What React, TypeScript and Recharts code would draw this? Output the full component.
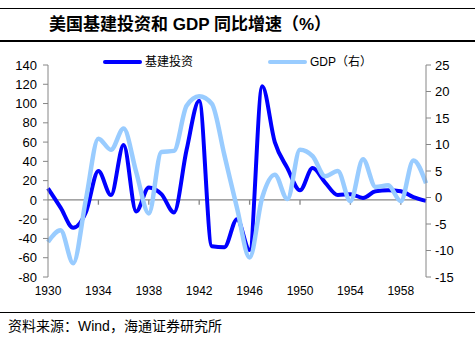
import React from "react";
import { LineChart, Line, XAxis, YAxis, ReferenceLine } from "recharts";

// 1930 - 1960
const years = [
  "1930", "1931", "1932", "1933", "1934", "1935", "1936", "1937", "1938", "1939",
  "1940", "1941", "1942", "1943", "1944", "1945", "1946", "1947", "1948", "1949",
  "1950", "1951", "1952", "1953", "1954", "1955", "1956", "1957", "1958", "1959",
  "1960",
];

// 基建投资 同比 (%), left axis
const infraGrowth = [
  12, -8, -29, -13, 30, 5, 57, -12, 13, 6,
  -13, 52, 103, -48, -49, -20, -52, 118, 60, 33,
  10, 33, 18, 5, 6, 2, 9, 10, 9, 3,
  -1,
];

// GDP 同比 (%), right axis
const gdpGrowth = [
  -8.4, -6.2, -12.4, -0.5, 11.1, 9, 13, 4.8, -3, 8.6,
  8.8, 17.3, 19.1, 17.7, 8, -2, -11.3, 0, 4.3, -0.3,
  9, 7.8, 4, 5, -0.7, 7.2, 2, 2.3, -0.7, 7,
  2.7,
];

const leftTicks = [-80, -60, -40, -20, 0, 20, 40, 60, 80, 100, 120, 140];
const rightTicks = [-15, -10, -5, 0, 5, 10, 15, 20, 25];
const labelYears = ["1934", "1938", "1942", "1946", "1950", "1954", "1958"];

const seriesNames = { infra: "基建投资", gdp: "GDP（右）" };
const colors = { infra: "#0000FF", gdp: "#99CCFF", axis: "#868686" };

const data = years.map((year, i) => ({
  year,
  infra: infraGrowth[i],
  gdp: gdpGrowth[i],
}));

const latin = "'Liberation Sans', Arial, sans-serif";
const cjk = "'Liberation Sans', 'Noto Sans CJK SC', sans-serif";

function Rule({ top }: { top: number }) {
  return (
    <div
      style={{
        position: "absolute",
        left: 0,
        top,
        width: 475,
        height: 1.5,
        background: "#000",
      }}
    />
  );
}

function LegendItem({ left, color, width, label }: { left: number; color: string; width: number; label: string }) {
  return (
    <div style={{ position: "absolute", left, top: 54, height: 16, display: "flex", alignItems: "center" }}>
      <div style={{ width: 39, height: width, background: color, borderRadius: 2 }} />
      <span style={{ marginLeft: 3, fontSize: 12, fontFamily: cjk, color: "#000", lineHeight: "16px" }}>
        {label}
      </span>
    </div>
  );
}

export default function App() {
  return (
    <div
      style={{
        position: "absolute",
        left: 0,
        top: 0,
        width: 475,
        height: 338,
        background: "#fff",
        overflow: "hidden",
        fontFamily: cjk,
      }}
    >
      <Rule top={7.5} />
      <div
        style={{
          position: "absolute",
          left: 49,
          top: 13,
          fontSize: 17,
          fontWeight: "bold",
          lineHeight: "23px",
          color: "#000",
          whiteSpace: "nowrap",
        }}
      >
        美国基建投资和 GDP 同比增速（%）
      </div>
      <Rule top={40} />

      <div style={{ position: "absolute", left: 0, top: 0 }}>
        <LineChart
          width={475}
          height={338}
          data={data}
          margin={{ top: 65, right: 0, bottom: 31, left: 0 }}
        >
          <XAxis
            dataKey="year"
            interval={3}
            axisLine={false}
            tickLine={false}
            tickMargin={3}
            height={30}
            tick={{ fontSize: 12, fill: "#000", fontFamily: latin }}
          />
          <YAxis
            yAxisId="left"
            orientation="left"
            width={48}
            domain={[-80, 140]}
            ticks={leftTicks}
            interval={0}
            allowDataOverflow
            stroke={colors.axis}
            tickSize={5}
            tickMargin={6}
            tick={{ fontSize: 13, fill: "#000", fontFamily: latin }}
          />
          <YAxis
            yAxisId="right"
            orientation="right"
            width={49}
            domain={[-15, 25]}
            ticks={rightTicks}
            interval={0}
            allowDataOverflow
            stroke={colors.axis}
            tickSize={5}
            tickMargin={4}
            tick={{ fontSize: 13, fill: "#000", fontFamily: latin }}
          />
          <ReferenceLine yAxisId="left" y={0} stroke={colors.axis} strokeWidth={1.3} />
          {labelYears.map((y) => (
            <ReferenceLine
              key={y}
              yAxisId="left"
              segment={[
                { x: y, y: 0 },
                { x: y, y: -5 },
              ]}
              stroke={colors.axis}
              strokeWidth={1.3}
            />
          ))}
          <Line
            yAxisId="left"
            type="monotone"
            dataKey="infra"
            name={seriesNames.infra}
            stroke={colors.infra}
            strokeWidth={4}
            dot={false}
            activeDot={false}
            isAnimationActive={false}
          />
          <Line
            yAxisId="right"
            type="monotone"
            dataKey="gdp"
            name={seriesNames.gdp}
            stroke={colors.gdp}
            strokeWidth={4.5}
            dot={false}
            activeDot={false}
            isAnimationActive={false}
          />
        </LineChart>
      </div>

      <LegendItem left={103} color={colors.infra} width={4} label={seriesNames.infra} />
      <LegendItem left={268} color={colors.gdp} width={4.5} label={seriesNames.gdp} />

      <Rule top={311.5} />
      <div
        style={{
          position: "absolute",
          left: 8,
          top: 317,
          fontSize: 14,
          lineHeight: "18px",
          color: "#000",
          whiteSpace: "nowrap",
        }}
      >
        资料来源：Wind，海通证券研究所
      </div>
    </div>
  );
}
